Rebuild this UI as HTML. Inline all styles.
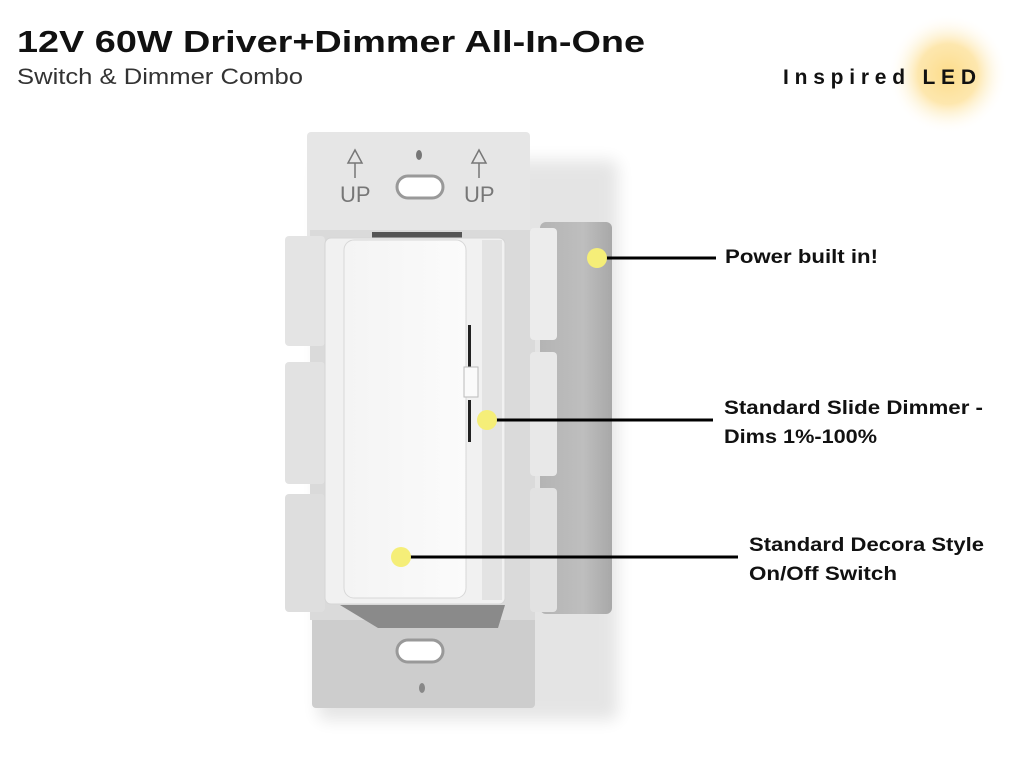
<!DOCTYPE html>
<html><head><meta charset="utf-8"><style>
html,body{margin:0;padding:0;background:#fff;width:1024px;height:768px;overflow:hidden}
svg{display:block}
</style></head><body>
<svg width="1024" height="768" viewBox="0 0 1024 768" xmlns="http://www.w3.org/2000/svg">
<defs>
<radialGradient id="glow" cx="0.5" cy="0.5" r="0.5">
<stop offset="0" stop-color="#fddc8a"/><stop offset="0.5" stop-color="#fde3a0" stop-opacity="0.85"/><stop offset="1" stop-color="#fff" stop-opacity="0"/>
</radialGradient>
<linearGradient id="box" x1="0" x2="1"><stop offset="0" stop-color="#b4b4b4"/><stop offset="0.6" stop-color="#bebebe"/><stop offset="1" stop-color="#a8a8a8"/></linearGradient>
<linearGradient id="pad" x1="0" x2="1"><stop offset="0" stop-color="#f4f4f4"/><stop offset="1" stop-color="#fbfbfb"/></linearGradient>
<filter id="sh" x="-30%" y="-30%" width="160%" height="160%"><feGaussianBlur stdDeviation="8"/></filter>
</defs>
<text x="17" y="52" font-family="Liberation Sans, sans-serif" font-weight="bold" font-size="31" fill="#111" textLength="628" lengthAdjust="spacingAndGlyphs">12V 60W Driver+Dimmer All-In-One</text>
<text x="17" y="84" font-family="Liberation Sans, sans-serif" font-size="22" fill="#333" textLength="286" lengthAdjust="spacingAndGlyphs">Switch &amp; Dimmer Combo</text>
<circle cx="948" cy="74" r="60" fill="url(#glow)"/>
<text x="783" y="84" font-family="Liberation Sans, sans-serif" font-weight="bold" font-size="21" fill="#111" textLength="193" lengthAdjust="spacing">Inspired LED</text>

<!-- shadow -->
<rect x="318" y="160" width="300" height="560" rx="8" fill="#000" opacity="0.10" filter="url(#sh)"/>
<!-- grey box -->
<rect x="540" y="222" width="72" height="392" rx="6" fill="url(#box)"/>
<!-- plate -->
<rect x="307" y="132" width="223" height="160" rx="4" fill="#e6e6e6"/>
<rect x="312" y="600" width="223" height="108" rx="4" fill="#cdcdcd"/>
<rect x="310" y="230" width="225" height="390" fill="#dadada"/>
<!-- side tabs -->
<rect x="285" y="236" width="40" height="110" rx="4" fill="#e4e4e4"/>
<rect x="285" y="362" width="40" height="122" rx="4" fill="#e2e2e2"/>
<rect x="285" y="494" width="40" height="118" rx="4" fill="#dedede"/>
<rect x="530" y="228" width="27" height="112" rx="4" fill="#ececec"/>
<rect x="530" y="352" width="27" height="124" rx="4" fill="#e8e8e8"/>
<rect x="530" y="488" width="27" height="124" rx="4" fill="#e2e2e2"/>
<!-- bottom dark area -->
<path d="M340 605 L505 605 L498 628 L378 628 Z" fill="#8a8a8a"/>
<!-- UP labels -->
<g fill="none" stroke="#777" stroke-width="1.5"><path d="M348 163 L355 150 L362 163 Z M355 163 V178"/><path d="M472 163 L479 150 L486 163 Z M479 163 V178"/></g>
<text x="340" y="202" font-family="Liberation Sans, sans-serif" font-size="22" fill="#777">UP</text>
<text x="464" y="202" font-family="Liberation Sans, sans-serif" font-size="22" fill="#777">UP</text>
<rect x="397" y="176" width="46" height="22" rx="11" fill="#fff" stroke="#999" stroke-width="3"/>
<ellipse cx="419" cy="155" rx="3" ry="5" fill="#777"/>
<rect x="397" y="640" width="46" height="22" rx="11" fill="#fff" stroke="#999" stroke-width="3"/>
<ellipse cx="422" cy="688" rx="3" ry="5" fill="#888"/>
<!-- rocker body -->
<rect x="372" y="232" width="90" height="8" fill="#555"/>
<rect x="325" y="238" width="180" height="366" rx="6" fill="#f1f1f1" stroke="#d5d5d5"/>
<rect x="482" y="240" width="20" height="360" fill="#e3e3e3"/>
<rect x="344" y="240" width="122" height="358" rx="10" fill="url(#pad)" stroke="#d8d8d8"/>
<!-- slider -->
<rect x="468" y="325" width="3" height="42" fill="#222"/>
<rect x="468" y="400" width="3" height="42" fill="#222"/>
<rect x="464" y="367" width="14" height="30" fill="#fafafa" stroke="#bbb"/>
<!-- connectors -->
<g stroke="#000" stroke-width="3"><line x1="597" y1="258" x2="716" y2="258"/><line x1="487" y1="420" x2="713" y2="420"/><line x1="401" y1="557" x2="738" y2="557"/></g>
<g fill="#f5ee78"><circle cx="597" cy="258" r="10"/><circle cx="487" cy="420" r="10"/><circle cx="401" cy="557" r="10"/></g>
<g font-family="Liberation Sans, sans-serif" font-weight="bold" font-size="19" fill="#111">
<text x="725" y="263" textLength="153" lengthAdjust="spacingAndGlyphs">Power built in!</text>
<text x="724" y="414" textLength="259" lengthAdjust="spacingAndGlyphs">Standard Slide Dimmer -</text>
<text x="724" y="443" textLength="153" lengthAdjust="spacingAndGlyphs">Dims 1%-100%</text>
<text x="749" y="551" textLength="235" lengthAdjust="spacingAndGlyphs">Standard Decora Style</text>
<text x="749" y="580" textLength="148" lengthAdjust="spacingAndGlyphs">On/Off Switch</text>
</g>
</svg>
</body></html>
